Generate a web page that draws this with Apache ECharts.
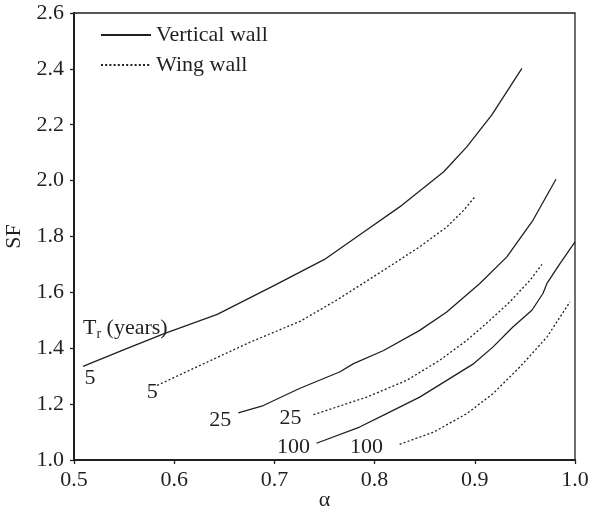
<!DOCTYPE html>
<html>
<head>
<meta charset="utf-8">
<script src="https://cdn.jsdelivr.net/npm/echarts@6/dist/echarts.min.js"></script>
<style>
  html, body { margin: 0; padding: 0; background: #fff; }
  #chart { width: 592px; height: 515px; }
</style>
</head>
<body>
<div id="chart"></div>
<script>
// Safety factor SF against alpha, for return periods Tr = 5, 25, 100 years
const vertical5 = [[0.509,1.335],[0.55,1.395],[0.590,1.452],[0.643,1.521],[0.70,1.625],[0.750,1.718],[0.792,1.823],[0.825,1.906],[0.869,2.032],[0.892,2.121],[0.917,2.235],[0.947,2.402]];
const wing5 = [[0.583,1.267],[0.62,1.329],[0.676,1.422],[0.726,1.497],[0.762,1.572],[0.805,1.670],[0.845,1.763],[0.872,1.834],[0.889,1.894],[0.901,1.946]];
const vertical25 = [[0.664,1.169],[0.689,1.195],[0.725,1.256],[0.765,1.315],[0.779,1.345],[0.809,1.392],[0.845,1.464],[0.872,1.530],[0.905,1.632],[0.932,1.727],[0.958,1.858],[0.981,2.005]];
const wing25 = [[0.739,1.162],[0.792,1.225],[0.832,1.285],[0.865,1.357],[0.892,1.428],[0.915,1.500],[0.935,1.566],[0.955,1.643],[0.967,1.700]];
const vertical100 = [[0.742,1.060],[0.785,1.118],[0.812,1.166],[0.845,1.225],[0.872,1.285],[0.899,1.345],[0.918,1.404],[0.938,1.476],[0.957,1.536],[0.968,1.596],[0.972,1.632],[0.985,1.703],[1.0,1.781]];
const wing100 = [[0.825,1.056],[0.859,1.100],[0.892,1.166],[0.918,1.237],[0.945,1.333],[0.972,1.440],[0.995,1.566]];

// Return-period tags placed next to each curve
const curveTags = ['5', '5', '25', '25', '100', '100'];
const curveTagPos = [[0.516,1.291],[0.578,1.243],[0.646,1.142],[0.716,1.148],[0.719,1.046],[0.792,1.046]];
const periodTitlePos = [0.509, 1.471];

const FONT = '"Liberation Serif", "DejaVu Serif", serif';
const INK = '#231f20';
const FS = 22;

function curve(name, data, dotted) {
  return {
    name: name,
    type: 'line',
    data: data,
    symbol: 'none',
    smooth: false,
    silent: true,
    lineStyle: { color: INK, width: 1.3, type: dotted ? [2, 2.2] : 'solid' },
    itemStyle: { color: INK },
    z: 3
  };
}

// Text placed at data coordinates through the grid's own scales
function textSeries(points, texts, align, rich) {
  return {
    type: 'custom',
    silent: true,
    coordinateSystem: 'cartesian2d',
    data: points.map((p, i) => [p[0], p[1], i]),
    encode: { x: 0, y: 1 },
    renderItem: function (params, api) {
      const pt = api.coord([api.value(0), api.value(1)]);
      const style = {
        text: texts[api.value(2)],
        fill: INK,
        font: FS + 'px ' + FONT,
        align: align,
        verticalAlign: 'middle'
      };
      if (rich) style.rich = rich;
      return { type: 'text', x: pt[0], y: pt[1], style: style };
    },
    z: 4
  };
}

const chart = echarts.init(document.getElementById('chart'), null, { renderer: 'canvas' });

chart.setOption({
  animation: false,
  backgroundColor: '#fff',
  textStyle: { fontFamily: FONT, color: INK },
  grid: {
    left: 74, right: 17, top: 13, bottom: 55,
    outerBoundsMode: 'none',
    containLabel: false,
    show: true, borderColor: INK, borderWidth: 1.3, backgroundColor: 'transparent'
  },
  legend: {
    left: 100, top: 24,
    orient: 'vertical',
    itemWidth: 50, itemHeight: 14, itemGap: 8,
    padding: 0,
    data: ['Vertical wall', 'Wing wall'],
    itemStyle: { opacity: 0 },
    textStyle: { fontFamily: FONT, fontSize: FS, color: INK }
  },
  xAxis: {
    type: 'value',
    min: 0.5, max: 1.0, interval: 0.1,
    name: 'α', nameLocation: 'middle', nameGap: 29,
    nameMoveOverlap: false,
    nameTextStyle: { fontFamily: FONT, fontSize: FS, color: INK },
    axisLine: { show: true, lineStyle: { color: INK, width: 2 } },
    axisTick: { show: true, inside: false, length: 4, lineStyle: { color: INK, width: 1.3 } },
    axisLabel: { formatter: v => v.toFixed(1), fontFamily: FONT, fontSize: FS, color: INK, margin: 9 },
    splitLine: { show: false }
  },
  yAxis: {
    type: 'value',
    min: 1.0, max: 2.6, interval: 0.2,
    name: 'SF', nameLocation: 'middle', nameGap: 49, nameRotate: 90,
    nameMoveOverlap: false,
    nameTextStyle: { fontFamily: FONT, fontSize: FS, color: INK },
    axisLine: { show: true, lineStyle: { color: INK, width: 2 } },
    axisTick: { show: true, inside: false, length: 4, lineStyle: { color: INK, width: 1.3 } },
    axisLabel: { formatter: v => v.toFixed(1), fontFamily: FONT, fontSize: FS, color: INK, margin: 10 },
    splitLine: { show: false }
  },
  series: [
    curve('Vertical wall', vertical5, false),
    curve('Wing wall', wing5, true),
    curve('Vertical wall', vertical25, false),
    curve('Wing wall', wing25, true),
    curve('Vertical wall', vertical100, false),
    curve('Wing wall', wing100, true),
    textSeries(curveTagPos, curveTags, 'center'),
    textSeries([periodTitlePos], ['{t|T}{s|r}{t| (years)}'], 'left', {
      t: { fontFamily: FONT, fontSize: FS, fill: INK, color: INK },
      s: { fontFamily: FONT, fontSize: 14, fill: INK, color: INK, padding: [11, 0, 0, 0] }
    })
  ]
});
</script>
</body>
</html>
